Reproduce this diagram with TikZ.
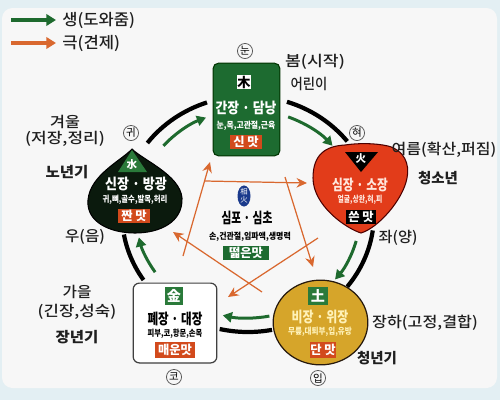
\documentclass[tikz,border=0pt]{standalone}
\usepackage{fontspec}
\usepackage{graphicx}
\setmainfont{Noto Sans CJK KR}
\newfontfamily\medf{Noto Sans CJK KR Medium}
\usetikzlibrary{arrows.meta,shapes.geometric}
\newdimen\pxu \pxu=0.5669pt
\newcommand\fw[2]{\resizebox{#1\pxu}{\height}{#2}}
\definecolor{bgblue}{HTML}{E3EFF3}
\definecolor{panel}{HTML}{F7F7F7}
\definecolor{woodg}{HTML}{1D6B30}
\definecolor{shengg}{HTML}{1E6A2E}
\definecolor{sqgreen}{HTML}{2A7A3A}
\definecolor{tasteor}{HTML}{D24A1C}
\definecolor{firered}{HTML}{E23C1A}
\definecolor{waterbk}{HTML}{0B1A0D}
\definecolor{earthy}{HTML}{D6A52A}
\definecolor{keor}{HTML}{D9682F}
\definecolor{sangblue}{HTML}{1A3A8C}
\definecolor{paleyel}{HTML}{FFF2B8}
\definecolor{palepink}{HTML}{FFE6DC}
\begin{document}
\begin{tikzpicture}[x=0.02cm,y=-0.02cm,
  txt/.style={inner sep=0pt,text=black!88},
  reg/.style={txt,font=\medf\fontsize{8.4}{9}\selectfont},
  regb/.style={txt,font=\fontsize{8.2}{9}\selectfont\bfseries},
  leg/.style={txt,font=\medf\fontsize{9}{10}\selectfont},
  organ/.style={inner sep=0pt,font=\fontsize{8.4}{9}\selectfont\bfseries},
  tiny/.style={inner sep=0pt,font=\fontsize{5}{5}\selectfont\bfseries},
  tastebox/.style={fill=tasteor,text=white,inner sep=0pt,minimum height=8.5pt,font=\fontsize{7}{8}\selectfont\bfseries},
  hsq/.style={inner sep=0pt,font=\fontsize{7.5}{8}\selectfont\bfseries},
  circ/.style={circle,draw=black!65,line width=0.45pt,inner sep=0pt,minimum size=8.6pt,font=\fontsize{6}{6}\selectfont},
  bigarc/.style={line width=2.4pt,black},
  sheng/.style={line width=1.7pt,shengg,-{Triangle[length=5.2pt,width=5.8pt]}},
  ke/.style={line width=0.7pt,keor,-{Stealth[length=6pt,width=5.5pt,inset=2pt]}}
]
\useasboundingbox (0,0) rectangle (500,400);
\fill[bgblue] (0,0) rectangle (500,400);
\fill[panel,rounded corners=6pt] (2,8) rectangle (497,388);

% legend
\coordinate (lg1) at (11,20); \coordinate (lg2) at (56,20);
\coordinate (lo1) at (11,43); \coordinate (lo2) at (56,43);
\draw[line width=2.3pt,shengg,-{Triangle[length=5.5pt,width=6.5pt]}] (lg1) -- (lg2);
\draw[line width=2.3pt,keor,-{Triangle[length=5.5pt,width=6.5pt]}] (lo1) -- (lo2);
\node[leg,anchor=west] (legs) at (62,20) {\fw{73}{생(도와줌)}};
\node[leg,anchor=west] (legk) at (62,43) {\fw{58}{극(견제)}};

% control (ke) pentagon arrows
\coordinate (kA1) at (205,181); \coordinate (kA2) at (307,183);
\coordinate (kC1) at (285,177); \coordinate (kC2) at (313,267);
\coordinate (kD1) at (318,238); \coordinate (kD2) at (228,297);
\coordinate (kE1) at (262,292); \coordinate (kE2) at (173,232);
\coordinate (kB1) at (183,256); \coordinate (kB2) at (210,162);
\draw[ke] (kA1) -- (kA2);
\draw[ke] (kC1) -- (kC2);
\draw[ke] (kD1) -- (kD2);
\draw[ke] (kE1) -- (kE2);
\draw[ke] (kB1) -- (kB2);

% WOOD
\node[draw=black!80!green,line width=0.6pt,fill=woodg,rounded corners=3pt,minimum width=38pt,minimum height=52.7pt] (wood) at (246.5,109.5) {};
\node[hsq,fill=white,text=black,minimum width=7.9pt,minimum height=8.5pt] (woodh) at (244,82) {木};
\node[organ,text=white] (woodo) at (246,108) {\fw{61}{간장 · 담낭}};
\node[tiny,text=white] (woods) at (246,126) {\fw{59}{눈,목,고관절,근육}};
\node[tastebox,minimum width=18.1pt] (woodt) at (246,142) {신 맛};

% FIRE
\fill[firered,draw=black!70!red,line width=0.6pt] (361,233) .. controls (345,228) and (313,205) .. (313,178)
  .. controls (313,155) and (325,146) .. (345,145) .. controls (358,143) and (375,143) .. (388,146)
  .. controls (404,150) and (410,164) .. (407,178) .. controls (403,200) and (378,228) .. (361,233) -- cycle;
\coordinate (fire) at (360,190);
\fill[black] (345,152) -- (378,152) -- (361,172) -- cycle;
\node[hsq,text=white,font=\fontsize{6}{6}\selectfont\bfseries] (fireh) at (361,159) {火};
\node[organ,text=palepink] (fireo) at (360,185) {\fw{56}{심장 · 소장}};
\node[tiny,text=palepink] (fires) at (360,200) {\fw{45}{얼굴,상완,혀,피}};
\node[tastebox,fill=black,minimum width=17.6pt] (firet) at (361,217) {쓴 맛};

% WATER
\fill[waterbk,draw=black,line width=0.6pt] (132,149) .. controls (122,160) and (90,175) .. (88,200)
  .. controls (86,222) and (110,233) .. (135,233) .. controls (160,233) and (183,222) .. (182,198)
  .. controls (180,175) and (143,160) .. (132,149) -- cycle;
\coordinate (water) at (135,195);
\fill[sqgreen] (118,172) -- (147,172) -- (132,150) -- cycle;
\node[hsq,text=white,font=\fontsize{6}{6}\selectfont\bfseries] (waterh) at (132,164) {水};
\node[organ,text=white] (watero) at (136,184) {\fw{62}{신장 · 방광}};
\node[tiny,text=white] (waters) at (135,200) {\fw{65}{귀,뼈,골수,발목,허리}};
\node[tastebox,minimum width=18.1pt,minimum height=7.6pt] (watert) at (134,216) {짠 맛};

% METAL
\node[draw=black!75,line width=0.7pt,fill=white,rounded corners=3.5pt,minimum width=47.6pt,minimum height=45.4pt] (metal) at (175,323) {};
\node[hsq,fill=sqgreen,text=white,minimum size=10.2pt,font=\fontsize{8}{8}\selectfont\bfseries] (metalh) at (174,296) {金};
\node[organ,text=black] (metalo) at (175,319) {\fw{55}{폐장 · 대장}};
\node[tiny,text=black] (metals) at (175,334) {\fw{55}{피부,코,항문,손목}};
\node[tastebox,minimum width=23.2pt,minimum height=9pt] (metalt) at (175,350) {매운맛};

% EARTH
\node[ellipse,draw=black!80!brown,line width=0.7pt,fill=earthy,inner sep=0pt,minimum width=53.9pt,minimum height=48.2pt] (earth) at (320.5,322.5) {};
\node[hsq,fill=sqgreen,text=white,minimum width=11.3pt,minimum height=10.2pt,font=\fontsize{8}{8}\selectfont\bfseries] (earthh) at (318,296) {土};
\node[organ,text=paleyel] (eartho) at (320,317) {\fw{57}{비장 · 위장}};
\node[tiny,text=paleyel] (earths) at (320,332) {\fw{64}{무릎,대퇴부,입,유방}};
\node[tastebox,minimum width=13.8pt,minimum height=9pt] (eartht) at (323,350) {단 맛};

% CENTER (sang-hwa)
\node[ellipse,fill=sangblue,text=white,inner sep=0pt,minimum width=7.4pt,minimum height=12pt,align=center,font=\fontsize{4.2}{4.4}\selectfont] (sang) at (244,196) {相\\火};
\node[organ,text=black] (sango) at (247,218) {\fw{51}{심포 · 심초}};
\node[tiny,text=black] (sangs) at (250,237) {\fw{82}{손,건관절,임파액,생명력}};
\node[tastebox,fill=woodg,minimum width=26.6pt,minimum height=7.6pt] (sangt) at (246,253) {떫은맛};

% generating cycle: black arcs
\coordinate (C) at (248,214);
\path (C) ++(-143:126 and 118) coordinate (b1);
\path (C) ++(-72:126 and 118) coordinate (b2);
\path (C) ++(8:126 and 118) coordinate (b3);
\path (C) ++(79:126 and 118) coordinate (b4);
\path (C) ++(146:126 and 118) coordinate (b5);
\draw[bigarc] (b1) arc[start angle=-143,end angle=-109,x radius=126,y radius=118];
\draw[bigarc] (b2) arc[start angle=-72,end angle=-38,x radius=126,y radius=118];
\draw[bigarc] (b3) arc[start angle=8,end angle=38,x radius=126,y radius=118];
\draw[bigarc] (b4) arc[start angle=79,end angle=103,x radius=126,y radius=118];
\draw[bigarc] (b5) arc[start angle=146,end angle=170,x radius=126,y radius=118];
% green arrows
\path (C) ++(-139:112 and 104) coordinate (g1);
\path (C) ++(-69:112 and 104) coordinate (g2);
\path (C) ++(15:112 and 104) coordinate (g3);
\path (C) ++(79:112 and 104) coordinate (g4);
\path (C) ++(146:112 and 104) coordinate (g5);
\draw[sheng] (g1) arc[start angle=-139,end angle=-112,x radius=112,y radius=104];
\draw[sheng] (g2) arc[start angle=-69,end angle=-41,x radius=112,y radius=104];
\draw[sheng] (g3) arc[start angle=15,end angle=39,x radius=112,y radius=104];
\draw[sheng] (g4) arc[start angle=79,end angle=103,x radius=112,y radius=104];
\draw[sheng] (g5) arc[start angle=146,end angle=167,x radius=112,y radius=104];

% circled sense organs
\node[circ] (c1) at (245,51) {눈};
\node[circ] (c2) at (357,133) {혀};
\node[circ] (c3) at (131,133) {귀};
\node[circ] (c4) at (174,377) {코};
\node[circ] (c5) at (318,378) {입};

% seasons / ages
\node[reg] (t1) at (315,62) {\fw{60}{봄(시작)}};
\node[reg] (t2) at (309,84) {\fw{37}{어린이}};
\node[reg] (t3) at (444,150) {\fw{105}{여름(확산,퍼짐)}};
\node[regb] (t4) at (438,178) {\fw{40}{청소년}};
\node[reg] (t5) at (65,122) {\fw{30}{겨울}};
\node[reg] (t6) at (65,139) {\fw{80}{(저장,정리)}};
\node[regb] (t7) at (67,172) {\fw{43}{노년기}};
\node[reg] (t8) at (85,237) {\fw{40}{우(음)}};
\node[reg] (t9) at (77,292) {\fw{29}{가을}};
\node[reg] (t10) at (77,312) {\fw{79}{(긴장,성숙)}};
\node[regb] (t11) at (77,337) {\fw{43}{장년기}};
\node[reg] (t12) at (398,238) {\fw{39}{좌(양)}};
\node[reg] (t13) at (425,323) {\fw{106}{장하(고정,결합)}};
\node[regb] (t14) at (377,358) {\fw{40}{청년기}};
\end{tikzpicture}
\end{document}
